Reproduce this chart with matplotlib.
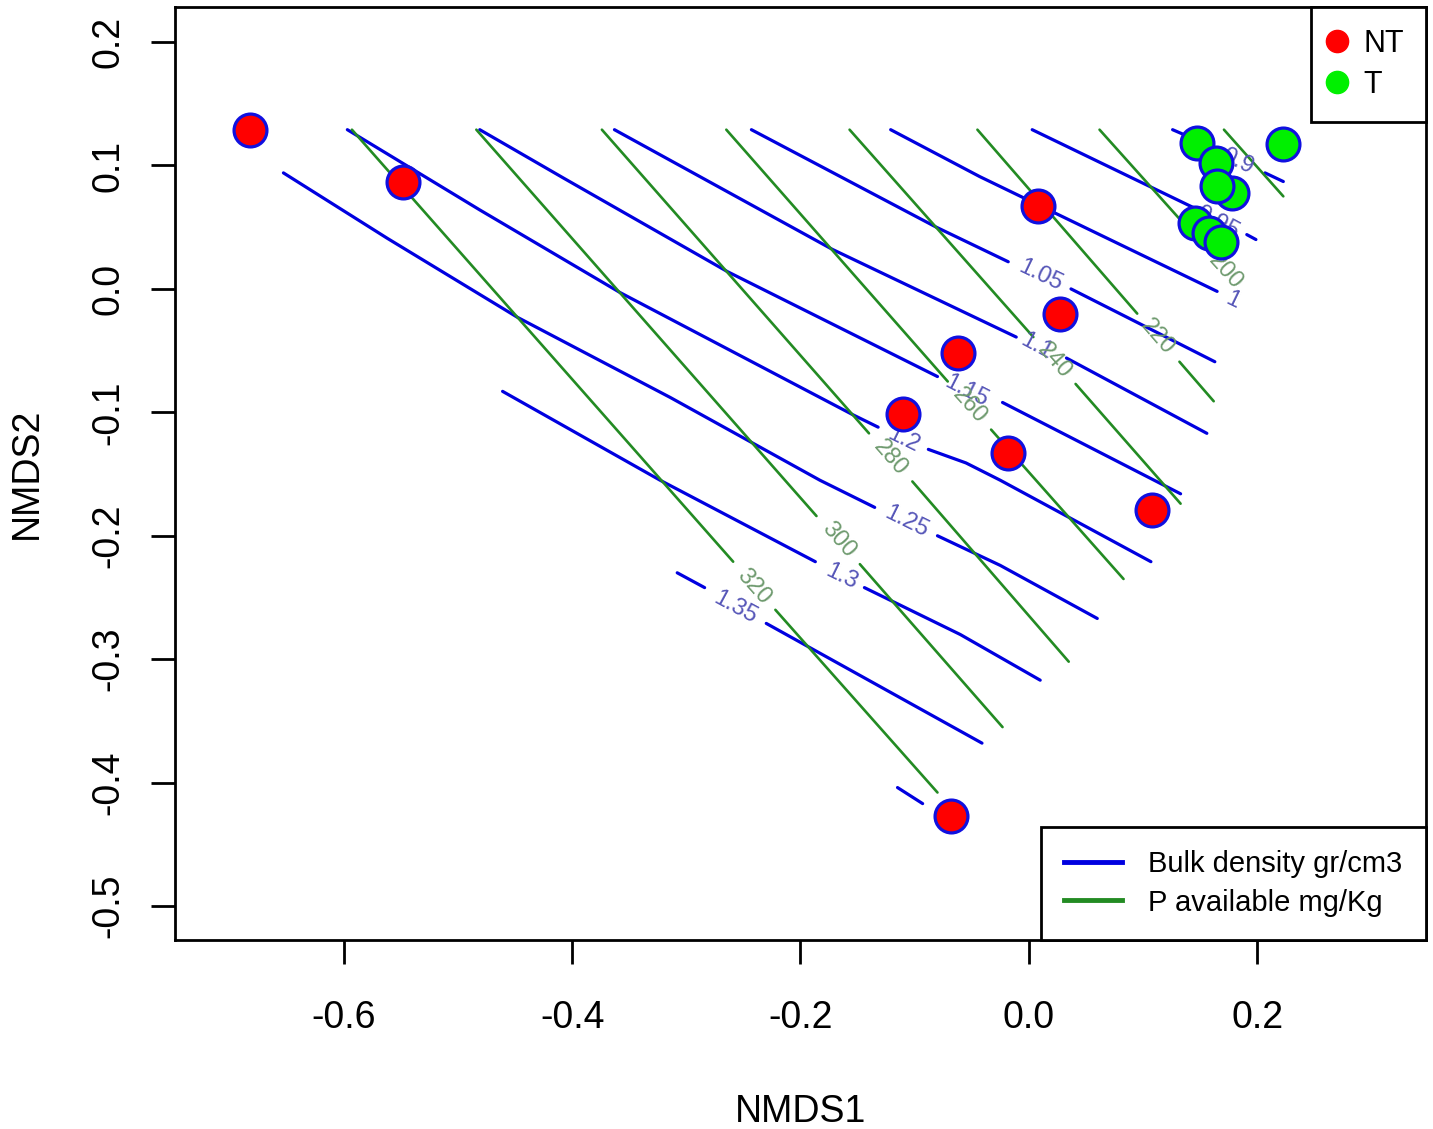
import math
import matplotlib
matplotlib.use("Agg")
import matplotlib.pyplot as plt
from matplotlib.lines import Line2D
from matplotlib.ticker import FormatStrFormatter

plt.rcParams['font.family'] = ['Liberation Sans', 'DejaVu Sans']
plt.rcParams['axes.unicode_minus'] = False

# NMDS site scores
nt_x = [-0.682, -0.548, 0.008, 0.027, -0.062, -0.110, -0.018, 0.108, -0.068]
nt_y = [0.129, 0.087, 0.067, -0.020, -0.052, -0.101, -0.133, -0.179, -0.427]
t_x = [0.147, 0.164, 0.178, 0.165, 0.146, 0.158, 0.168, 0.223]
t_y = [0.118, 0.102, 0.078, 0.083, 0.053, 0.045, 0.038, 0.117]

# ordisurf contours for bulk density (pieces between label gaps)
bd_levels = [0.9, 0.95, 1.0, 1.05, 1.1, 1.15, 1.2, 1.25, 1.3, 1.35, 1.4]
bd_lines = [
    [[(0.126, 0.129), (0.161, 0.115)], [(0.207, 0.094), (0.223, 0.087)]],
    [[(0.003, 0.129), (0.144, 0.066)], [(0.191, 0.044), (0.199, 0.040)]],
    [[(-0.121, 0.129), (-0.043, 0.091), (0.071, 0.040), (0.165, -0.002)]],
    [[(-0.243, 0.129), (-0.081, 0.050), (-0.018, 0.022)],
     [(0.037, 0.000), (0.163, -0.059)]],
    [[(-0.363, 0.129), (-0.172, 0.032), (-0.011, -0.039)],
     [(0.033, -0.056), (0.156, -0.117)]],
    [[(-0.481, 0.129), (-0.408, 0.090), (-0.264, 0.014), (-0.080, -0.071)],
     [(-0.023, -0.092), (0.133, -0.166)]],
    [[(-0.597, 0.129), (-0.481, 0.064), (-0.358, -0.003), (-0.154, -0.102),
      (-0.132, -0.112)],
     [(-0.088, -0.130), (-0.055, -0.141), (-0.025, -0.155), (0.107, -0.221)]],
    [[(-0.653, 0.094), (-0.562, 0.041), (-0.448, -0.023), (-0.314, -0.088),
      (-0.183, -0.155), (-0.135, -0.177)],
     [(-0.080, -0.200), (-0.025, -0.224), (0.060, -0.267)]],
    [[(-0.461, -0.083), (-0.323, -0.155), (-0.187, -0.221)],
     [(-0.144, -0.242), (-0.060, -0.280), (0.010, -0.317)]],
    [[(-0.308, -0.230), (-0.284, -0.242)], [(-0.230, -0.271), (-0.041, -0.368)]],
    [[(-0.115, -0.404), (-0.093, -0.417)]],
]
bd_label_at = [(0.183, 0.103), (0.165, 0.054), (0.179, -0.009), (0.010, 0.011),
               (0.007, -0.047), (-0.055, -0.083), (-0.110, -0.122),
               (-0.107, -0.189), (-0.164, -0.233), (-0.257, -0.258), None]

# ordisurf contours for available P
p_levels = [180, 200, 220, 240, 260, 280, 300, 320]
p_lines = [
    [[(0.171, 0.129), (0.223, 0.075)]],
    [[(0.062, 0.129), (0.156, 0.032)]],
    [[(-0.045, 0.129), (0.095, -0.020)], [(0.132, -0.059), (0.162, -0.091)]],
    [[(-0.157, 0.129), (0.004, -0.039)], [(0.041, -0.077), (0.133, -0.174)]],
    [[(-0.265, 0.129), (-0.071, -0.075)], [(-0.033, -0.114), (0.083, -0.235)]],
    [[(-0.374, 0.129), (-0.140, -0.117)], [(-0.102, -0.156), (0.035, -0.302)]],
    [[(-0.484, 0.129), (-0.186, -0.184)], [(-0.148, -0.223), (-0.023, -0.355)]],
    [[(-0.593, 0.129), (-0.259, -0.221)], [(-0.222, -0.260), (-0.080, -0.408)]],
]
p_label_at = [None, (0.172, 0.014), (0.113, -0.039), (0.022, -0.058),
              (-0.052, -0.095), (-0.121, -0.137), (-0.167, -0.203),
              (-0.241, -0.241)]

x_ticks = [-0.6, -0.4, -0.2, 0.0, 0.2]
y_ticks = [-0.5, -0.4, -0.3, -0.2, -0.1, 0.0, 0.1, 0.2]

BLUE = '#0000e0'
GREEN = '#238b23'

fig = plt.figure(figsize=(14.33, 11.29), dpi=100)
ax = fig.add_axes([175 / 1433, 189 / 1129, 1251 / 1433, 933 / 1129])
ax.set_xlim(-0.748, 0.348)
ax.set_ylim(-0.5275, 0.2284)


def label_angle(pieces, at):
    # direction of the segment closest to the label, in screen space
    px, py = ax.transData.transform(at)
    best = None
    for piece in pieces:
        for a, b in zip(piece[:-1], piece[1:]):
            (x0, y0), (x1, y1) = ax.transData.transform([a, b])
            d = math.hypot((x0 + x1) / 2 - px, (y0 + y1) / 2 - py)
            if best is None or d < best[0]:
                best = (d, x1 - x0, y1 - y0)
    ang = math.degrees(math.atan2(best[2], best[1]))
    if ang > 90:
        ang -= 180
    if ang < -90:
        ang += 180
    return ang


def draw_surface(levels, lines, label_at, color, lw, label_color):
    for level, pieces, at in zip(levels, lines, label_at):
        for piece in pieces:
            xs = [p[0] for p in piece]
            ys = [p[1] for p in piece]
            ax.plot(xs, ys, color=color, lw=lw, solid_capstyle='round',
                    solid_joinstyle='round', zorder=2)
        if at is not None:
            ax.text(at[0], at[1], '{:g}'.format(level), color=label_color,
                    fontsize=17, ha='center', va='center',
                    rotation=label_angle(pieces, at), rotation_mode='anchor',
                    zorder=3)


draw_surface(bd_levels, bd_lines, bd_label_at, BLUE, 2.3, '#5656b8')
draw_surface(p_levels, p_lines, p_label_at, GREEN, 1.9, '#6e9a6e')

ax.scatter(nt_x, nt_y, s=560, c='red', edgecolors='#1010e0', linewidths=2.3, zorder=4)
ax.scatter(t_x, t_y, s=560, c='#00f000', edgecolors='#1010e0', linewidths=2.3, zorder=4)

ax.set_xticks(x_ticks)
ax.set_yticks(y_ticks)
ax.xaxis.set_major_formatter(FormatStrFormatter('%.1f'))
ax.yaxis.set_major_formatter(FormatStrFormatter('%.1f'))
ax.tick_params(length=17, width=2, labelsize=27)
ax.tick_params(axis='x', pad=26)
ax.tick_params(axis='y', labelrotation=90, pad=18)
for lab in ax.get_yticklabels():
    lab.set_va('center')
for sp in ax.spines.values():
    sp.set_linewidth(2)

ax.set_xlabel('NMDS1', fontsize=27, labelpad=42)
ax.set_ylabel('NMDS2', fontsize=27, labelpad=33)

leg1 = ax.legend(
    handles=[Line2D([], [], marker='o', ls='none', color='red', ms=16),
             Line2D([], [], marker='o', ls='none', color='#00f000', ms=16)],
    labels=['NT', 'T'], loc='upper right', borderaxespad=0, fontsize=22,
    fancybox=False, edgecolor='black', framealpha=1, handlelength=0.3,
    handletextpad=0.7, borderpad=0.72, labelspacing=0.36)
leg1.get_frame().set_linewidth(2)
ax.add_artist(leg1)

leg2 = ax.legend(
    handles=[Line2D([], [], color=BLUE, lw=3.5),
             Line2D([], [], color=GREEN, lw=3.5)],
    labels=['Bulk density gr/cm3', 'P available mg/Kg'], loc='lower right',
    borderaxespad=0, fontsize=21, fancybox=False, edgecolor='black',
    framealpha=1, handlelength=2.0, handletextpad=0.9, borderpad=0.8,
    labelspacing=0.37)
leg2.get_frame().set_linewidth(2)

fig.savefig('out.png', dpi=100)
